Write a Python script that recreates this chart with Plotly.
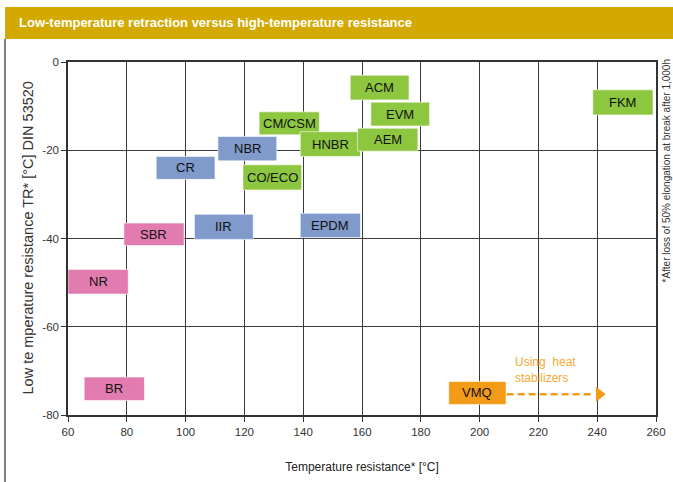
import plotly.graph_objects as go

# ---- data ----
names = ["CM/CSM", "HNBR", "AEM", "ACM", "EVM", "FKM", "NBR", "CR", "CO/ECO",
         "SBR", "IIR", "EPDM", "NR", "BR", "VMQ"]
x_lo = [125, 139, 158.5, 156, 163, 238.5, 111, 90, 119.5, 79, 103, 139, 60, 65.5, 189.5]
x_hi = [145.5, 159.5, 179, 176, 183, 259, 131, 110, 139.5, 99.5, 123, 159.5, 80.5, 86, 209]
y_hi = [-11.3, -15.8, -15, -3, -9.1, -6.3, -16.9, -21.4, -23.3, -36.5, -34.5, -34.3, -47, -71.4, -72.4]
y_lo = [-16.5, -21.4, -20.2, -8.6, -14.5, -12, -22.4, -26.6, -29, -41.6, -40.2, -39.8, -52.6, -76.7, -77.6]
groups = ["green", "green", "green", "green", "green", "green", "blue", "blue", "green",
          "pink", "blue", "blue", "pink", "pink", "orange"]

x_ticks = [60, 80, 100, 120, 140, 160, 180, 200, 220, 240, 260]
y_ticks = [0, -20, -40, -60, -80]

arrow_from = 209.2
arrow_to = 239
arrow_y = -75.3
note_x = 211.5
note_y = -69.8

palette = {"green": "#8dc63f", "blue": "#7f9acb", "pink": "#e27bb0", "orange": "#f29b17"}
FONT = "Liberation Sans, Arial"

fig = go.Figure()

shapes = []
annotations = []
for n, a, b, t, lo, g in zip(names, x_lo, x_hi, y_hi, y_lo, groups):
    shapes.append(dict(type="rect", xref="x", yref="y", x0=a, x1=b, y0=lo, y1=t,
                       fillcolor=palette[g], line=dict(color="rgba(255,255,255,0.6)", width=1),
                       layer="above"))
    annotations.append(dict(x=(a + b) / 2, y=(t + lo) / 2, xref="x", yref="y", text=n,
                            showarrow=False,
                            font=dict(family=FONT, size=13, color="#111111")))

# dashed arrow for VMQ
shapes.append(dict(type="line", xref="x", yref="y", x0=arrow_from, x1=arrow_to,
                   y0=arrow_y, y1=arrow_y, line=dict(color=palette["orange"], width=2.5, dash="7px,4px"),
                   layer="above"))
fig.add_trace(go.Scatter(x=[arrow_to + 1.7], y=[arrow_y], mode="markers",
                         marker=dict(symbol="triangle-right", size=13, color=palette["orange"]),
                         showlegend=False, hoverinfo="skip", cliponaxis=False))
annotations.append(dict(x=note_x, y=note_y, xref="x", yref="y", text="Using  heat<br>stabilizers",
                        showarrow=False, xanchor="left", yanchor="middle", align="left",
                        font=dict(family=FONT, size=12, color="#f5a833")))

# title bar
shapes.append(dict(type="rect", xref="paper", yref="paper", x0=-0.1071, x1=1.03,
                   y0=1.0652, y1=1.1558, fillcolor="#d3a900", line=dict(width=0), layer="below"))
shapes.append(dict(type="line", xref="paper", yref="paper", x0=-0.1071, x1=-0.1071,
                   y0=1.0652, y1=-0.2, line=dict(color="#555555", width=1.5)))
annotations.append(dict(x=-0.1071, y=1.1105, xref="paper", yref="paper", xshift=12,
                        text="Low-temperature retraction versus high-temperature resistance",
                        showarrow=False, xanchor="left", yanchor="middle",
                        font=dict(family=FONT, size=13, color="white", weight="bold")))
# side note
annotations.append(dict(x=1.0, y=1.0, xref="paper", yref="paper", xshift=10, yshift=4,
                        text="*After loss of 50% elongation at break after 1,000h",
                        showarrow=False, textangle=-90, xanchor="center", yanchor="top",
                        font=dict(family=FONT, size=10, color="#333333")))
# y title
annotations.append(dict(x=0, y=0.5, xref="paper", yref="paper", xshift=-41,
                        text="Low te mperature resistance TR* [°C] DIN 53520",
                        showarrow=False, textangle=-90, xanchor="center", yanchor="middle",
                        font=dict(family=FONT, size=14.5, color="#333333")))

axis_common = dict(showgrid=True, gridcolor="#3a3a3a", gridwidth=1, showline=True, linecolor="#333333",
                   linewidth=1.5, mirror=True, ticks="outside", ticklen=5, tickcolor="#333333",
                   zeroline=False,
                   tickfont=dict(family=FONT, size=11.5, color="#333333"))

fig.update_layout(
    width=673, height=482,
    margin=dict(l=68, r=17, t=62, b=67, autoexpand=False),
    paper_bgcolor="white", plot_bgcolor="white",
    showlegend=False,
    shapes=shapes, annotations=annotations,
    xaxis=dict(range=[60, 260], tickvals=x_ticks, ticktext=[str(v) for v in x_ticks],
               title=dict(text="Temperature resistance* [°C]", standoff=26,
                          font=dict(family=FONT, size=12, color="#222222")),
               **axis_common),
    yaxis=dict(range=[-80, 0], tickvals=y_ticks, ticktext=[str(v) for v in y_ticks],
               **axis_common),
)

fig.write_html("out.html", config={"displayModeBar": False},
               post_script="document.body.style.margin='0';document.body.style.overflow='hidden';")
